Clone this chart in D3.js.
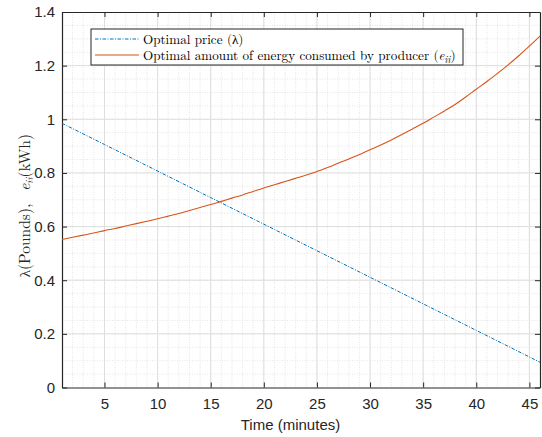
<!DOCTYPE html>
<html>
<head>
<meta charset="utf-8">
<script src="https://cdn.jsdelivr.net/npm/d3@7"></script>
<style>
  body { margin: 0; background: #fff; }
  svg { display: block; }
</style>
</head>
<body>
<svg id="chart" width="542" height="437"></svg>
<script>
// time in minutes
const minutes = [1,2,3,4,5,6,7,8,9,10,11,12,13,14,15,16,17,18,19,20,21,22,23,
  24,25,26,27,28,29,30,31,32,33,34,35,36,37,38,39,40,41,42,43,44,45,46];
// optimal amount of energy consumed by producer (kWh)
const energy = [0.552,0.560,0.568,0.576,0.585,0.593,0.602,0.611,0.620,0.629,
  0.639,0.649,0.660,0.671,0.682,0.694,0.706,0.718,0.731,0.744,0.756,0.768,
  0.780,0.792,0.805,0.820,0.836,0.852,0.869,0.886,0.904,0.923,0.943,0.964,
  0.985,1.008,1.031,1.055,1.083,1.112,1.141,1.171,1.203,1.237,1.273,1.310];
// optimal price (pounds)
const priceMinutes = [1,5,10,15,20,25,30,35,40,45,46];
const price = [0.985,0.906,0.807,0.708,0.609,0.510,0.411,0.312,0.213,0.114,0.094];

const xTicks = [5,10,15,20,25,30,35,40,45];
const yTicks = [0,0.2,0.4,0.6,0.8,1,1.2,1.4];
const legendLabels = ["Optimal price (\u03bb)", "Optimal amount of energy consumed by producer ("];

let svg = d3.select("#chart");
let plotLeft = 62, plotTop = 12, plotRight = 540, plotBottom = 387.5;

let x = d3.scaleLinear().domain([1,46]).range([plotLeft,plotRight]);
let y = d3.scaleLinear().domain([0,1.4]).range([plotBottom,plotTop]);

let axisColor = "#262626";
let blue = "#0072BD", red = "#D95319";

// minor grid
let g = svg.append("g");
g.selectAll(".mx").data(d3.range(2,46)).enter().append("line")
  .attr("x1", d => x(d)).attr("x2", d => x(d))
  .attr("y1", plotTop).attr("y2", plotBottom)
  .attr("stroke", "#d4d4d4").attr("stroke-width", 0.6).attr("stroke-dasharray", "1,1.5");
g.selectAll(".my").data(d3.range(1,28).map(d => d*0.05)).enter().append("line")
  .attr("x1", plotLeft).attr("x2", plotRight)
  .attr("y1", d => y(d)).attr("y2", d => y(d))
  .attr("stroke", "#d4d4d4").attr("stroke-width", 0.6).attr("stroke-dasharray", "1,1.5");

// major grid
g.selectAll(".gx").data(xTicks).enter().append("line")
  .attr("x1", d => x(d)).attr("x2", d => x(d))
  .attr("y1", plotTop).attr("y2", plotBottom)
  .attr("stroke", "#dedede").attr("stroke-width", 1);
g.selectAll(".gy").data(yTicks.slice(1,-1)).enter().append("line")
  .attr("x1", plotLeft).attr("x2", plotRight)
  .attr("y1", d => y(d)).attr("y2", d => y(d))
  .attr("stroke", "#dedede").attr("stroke-width", 1);

// axes
function styleAxis(sel) {
  sel.select(".domain").attr("stroke", axisColor).attr("stroke-width", 1.2);
  sel.selectAll(".tick line").attr("stroke", axisColor).attr("stroke-width", 1);
  sel.selectAll(".tick text").attr("fill", axisColor)
    .style("font-family", "'Liberation Sans', Arial, sans-serif").style("font-size", "15px");
}
let xAxis = svg.append("g").attr("transform", "translate(0," + plotBottom + ")")
  .call(d3.axisBottom(x).tickValues(xTicks).tickSizeInner(-5).tickSizeOuter(0).tickPadding(11));
styleAxis(xAxis);
let xTop = svg.append("g").attr("transform", "translate(0," + plotTop + ")")
  .call(d3.axisTop(x).tickValues(xTicks).tickSizeInner(-5).tickSizeOuter(0).tickFormat(""));
styleAxis(xTop);
let yAxis = svg.append("g").attr("transform", "translate(" + plotLeft + ",0)")
  .call(d3.axisLeft(y).tickValues(yTicks).tickSizeInner(-5).tickSizeOuter(0).tickPadding(7)
    .tickFormat(d => d3.format("")(+d.toFixed(1))));
styleAxis(yAxis);
let yRight = svg.append("g").attr("transform", "translate(" + plotRight + ",0)")
  .call(d3.axisRight(y).tickValues(yTicks).tickSizeInner(-5).tickSizeOuter(0).tickFormat(""));
styleAxis(yRight);

// lines
let priceLine = d3.line().x((d,i) => x(priceMinutes[i])).y(d => y(d));
let energyLine = d3.line().x((d,i) => x(minutes[i])).y(d => y(d)).curve(d3.curveMonotoneX);

svg.append("path").datum(price)
  .attr("d", priceLine).attr("fill", "none")
  .attr("stroke", blue).attr("stroke-width", 1).attr("stroke-dasharray", "3.5,1.5,1,1.5");
svg.append("path").datum(energy)
  .attr("d", energyLine).attr("fill", "none")
  .attr("stroke", red).attr("stroke-width", 1.1);

// legend
let serif = "'Latin Modern Roman', 'Liberation Serif', 'Times New Roman', serif";
let leg = svg.append("g");
leg.append("rect").attr("x", 91).attr("y", 29).attr("width", 372).attr("height", 36)
  .attr("fill", "#fff").attr("stroke", axisColor).attr("stroke-width", 1);
leg.append("line").attr("x1", 95).attr("x2", 139).attr("y1", 39).attr("y2", 39)
  .attr("stroke", blue).attr("stroke-width", 1).attr("stroke-dasharray", "3.5,1.5,1,1.5");
leg.append("line").attr("x1", 95).attr("x2", 139).attr("y1", 55).attr("y2", 55)
  .attr("stroke", red).attr("stroke-width", 1.1);

let t1 = leg.append("text").attr("x", 143).attr("y", 43.5)
  .style("font-family", serif).style("font-size", "14px").attr("fill", "#000")
  .text(legendLabels[0]);
let t2 = leg.append("text").attr("x", 143).attr("y", 59.5)
  .style("font-family", serif).style("font-size", "14px").attr("fill", "#000");
t2.append("tspan").text(legendLabels[1]);
t2.append("tspan").style("font-style", "italic").text("e");
t2.append("tspan").attr("dy", 3).style("font-style", "italic").style("font-size", "10px").text("ii");
t2.append("tspan").attr("dy", -3).text(")");
// fit the long legend entry to the box
let w = t2.node().getComputedTextLength();
let fs = 14 * 313 / w;
t1.style("font-size", fs + "px");
t2.style("font-size", fs + "px");
t2.selectAll("tspan").filter((d,i) => i == 2).style("font-size", (fs*0.72) + "px");

// axis labels
svg.append("text").attr("x", 290.5).attr("y", 430)
  .attr("text-anchor", "middle")
  .style("font-family", "'Liberation Sans', Arial, sans-serif").style("font-size", "15px")
  .attr("fill", axisColor).text("Time (minutes)");

let yl = svg.append("text")
  .attr("transform", "translate(30," + ((plotTop+plotBottom)/2 + 6) + ") rotate(-90)")
  .attr("text-anchor", "middle")
  .style("font-family", serif).style("font-size", "15.5px").attr("fill", axisColor);
yl.append("tspan").text("\u03bb(Pounds),\u2002 ");
yl.append("tspan").style("font-style", "italic").text("e");
yl.append("tspan").attr("dy", 3).style("font-style", "italic").style("font-size", "10px").text("ii");
yl.append("tspan").attr("dy", -3).text("(kWh)");
</script>
</body>
</html>
